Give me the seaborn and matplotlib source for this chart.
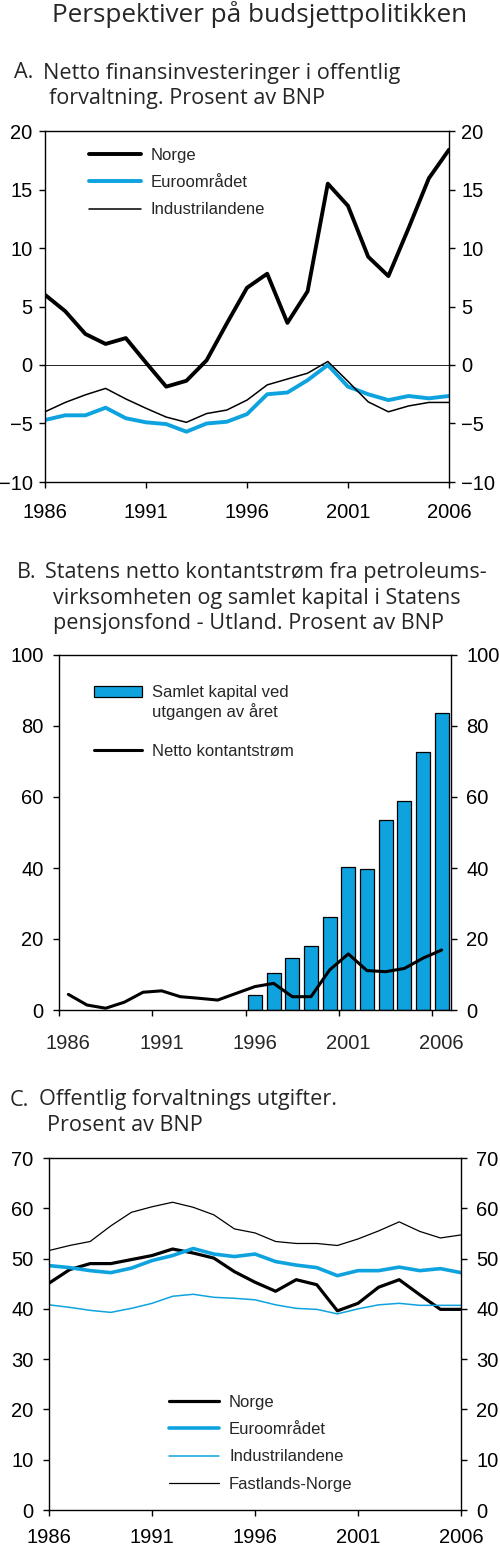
import numpy as np
import pandas as pd
import matplotlib
matplotlib.use('Agg')
import matplotlib.pyplot as plt
from matplotlib.lines import Line2D
from matplotlib.patches import Patch
import seaborn as sns

years = list(range(1986, 2007))

# A. Netto finansinvesteringer i offentlig forvaltning
a_norge = [6.0, 4.6, 2.65, 1.8, 2.3, 0.2, -1.85, -1.35, 0.4, 3.55, 6.6,
           7.8, 3.6, 6.3, 15.5, 13.6, 9.25, 7.6, 11.7, 15.95, 18.4]
a_euro = [-4.7, -4.3, -4.3, -3.65, -4.55, -4.9, -5.05, -5.7, -5.0, -4.85, -4.2,
          -2.5, -2.35, -1.3, 0.0, -1.85, -2.5, -3.0, -2.65, -2.85, -2.65]
a_industri = [-4.0, -3.2, -2.55, -2.0, -2.9, -3.7, -4.45, -4.9, -4.15, -3.85, -3.0,
              -1.7, -1.2, -0.7, 0.3, -1.4, -3.15, -4.0, -3.5, -3.2, -3.2]

# B. Netto kontantstrøm og kapital i fondet
b_kontant = [4.4, 1.4, 0.5, 2.2, 5.0, 5.4, 3.75, 3.3, 2.8, 4.7, 6.6,
             7.5, 3.75, 3.75, 11.3, 15.8, 11.1, 10.8, 11.7, 14.6, 16.9]
b_fond_years = list(range(1996, 2007))
b_fond = [4.2, 10.3, 14.6, 18.0, 26.3, 40.4, 39.8, 53.5, 59.0, 72.6, 83.6]

# C. Offentlig forvaltnings utgifter
c_norge = [45.1, 47.8, 49.0, 49.0, 49.8, 50.6, 51.9, 51.1, 50.1, 47.4, 45.3,
           43.5, 45.8, 44.8, 39.6, 41.1, 44.3, 45.8, 42.8, 39.9, 39.9]
c_euro = [48.6, 48.2, 47.6, 47.2, 48.1, 49.6, 50.6, 52.0, 50.9, 50.4, 50.9,
          49.4, 48.7, 48.2, 46.6, 47.6, 47.6, 48.3, 47.6, 48.0, 47.2]
c_industri = [40.8, 40.3, 39.7, 39.3, 40.1, 41.1, 42.5, 42.9, 42.3, 42.1, 41.8,
              40.8, 40.1, 39.9, 39.0, 40.0, 40.8, 41.1, 40.7, 40.7, 40.7]
c_fastland = [51.6, 52.6, 53.4, 56.5, 59.2, 60.3, 61.2, 60.2, 58.7, 55.9, 55.1,
              53.4, 53.0, 53.0, 52.6, 53.9, 55.5, 57.3, 55.4, 54.1, 54.7]

year_ticks = [1986, 1991, 1996, 2001, 2006]

BLUE = '#0ea3df'
TICK_FONT = 'Liberation Sans'
TITLE_FONT = 'Open Sans'
TICK_SIZE = 14.5

sns.set_theme(style='ticks')
plt.rcParams['font.family'] = [TICK_FONT, 'DejaVu Sans']
plt.rcParams['axes.linewidth'] = 1.0

fig = plt.figure(figsize=(5.0, 15.45), dpi=100)
W, H = 500, 1545


def add_axes(left, top, right, bottom):
    return fig.add_axes([left / W, 1 - bottom / H, (right - left) / W, (bottom - top) / H])


def style_axes(ax):
    for s in ax.spines.values():
        s.set_visible(True)
        s.set_color('black')
        s.set_linewidth(1.0)
    ax.tick_params(axis='both', which='major', direction='out', length=4, width=1.0,
                   labelsize=TICK_SIZE, colors='black', pad=7)
    ax.tick_params(axis='y', left=True, right=True, labelleft=True, labelright=True)
    ax.grid(False)
    ax.set_xlabel('')
    ax.set_ylabel('')


def title(x_first, y, letter, lines, x_rest):
    fig.text(x_first / W, 1 - y / H, letter, fontsize=15.6, family=TITLE_FONT,
             va='center', ha='left')
    for i, (xl, line) in enumerate(zip(x_rest, lines)):
        fig.text(xl / W, 1 - (y + i * 25.5) / H, line, fontsize=15.6, family=TITLE_FONT,
                 va='center', ha='left')


fig.text(260 / W, 1 - 15 / H, 'Perspektiver på budsjettpolitikken', fontsize=18.8,
         family=TITLE_FONT, ha='center', va='center')

# ---------- Panel A ----------
title(14, 73, 'A.', ['Netto finansinvesteringer i offentlig',
                     'forvaltning. Prosent av BNP'], [43, 49])
axA = add_axes(45, 131, 449, 482)
axA.axhline(0, color='black', lw=0.6)
sns.lineplot(x=years, y=a_norge, ax=axA, color='black', linewidth=2.8)
sns.lineplot(x=years, y=a_euro, ax=axA, color=BLUE, linewidth=2.8)
sns.lineplot(x=years, y=a_industri, ax=axA, color='black', linewidth=1.1)
axA.set_xlim(1986, 2006)
axA.set_ylim(-10, 20)
axA.set_yticks(range(-10, 21, 5))
axA.set_xticks(year_ticks)
style_axes(axA)
axA.tick_params(axis='x', pad=11)
axA.tick_params(axis='y', pad=5)
hA = [Line2D([], [], color='black', lw=2.8), Line2D([], [], color=BLUE, lw=2.8),
      Line2D([], [], color='black', lw=1.1)]
axA.legend(hA, ['Norge', 'Euroområdet', 'Industrilandene'], loc='upper left',
           bbox_to_anchor=(0.072, 0.995), frameon=False, fontsize=12,
           handlelength=3.1, labelspacing=0.74, handletextpad=0.6)

# ---------- Panel B ----------
title(17, 573, 'B.', ['Statens netto kontantstrøm fra petroleums-',
                      'virksomheten og samlet kapital i Statens',
                      'pensjonsfond - Utland. Prosent av BNP'], [45, 53, 53])
axB = add_axes(59, 655, 451, 1010)
dfB = pd.DataFrame({'pos': [y + 0.5 for y in b_fond_years], 'kapital': b_fond})
sns.barplot(data=dfB, x='pos', y='kapital', ax=axB, native_scale=True, width=0.74,
            color=BLUE, edgecolor='black', linewidth=0.9, saturation=1)
sns.lineplot(x=[y + 0.5 for y in years], y=b_kontant, ax=axB, color='black',
             linewidth=2.2)
axB.set_xlim(1986, 2007)
axB.set_ylim(0, 100)
axB.set_yticks(range(0, 101, 20))
axB.set_xticks(year_ticks)
axB.set_xticklabels([])
axB.set_xticks([y + 0.5 for y in year_ticks], minor=True)
axB.set_xticklabels([str(y) for y in year_ticks], minor=True)
style_axes(axB)
axB.tick_params(axis='x', which='minor', length=0, labelsize=TICK_SIZE, pad=17)
blank = Line2D([], [], color='none')
hB = [Patch(facecolor=BLUE, edgecolor='black', linewidth=0.9), blank, blank,
      Line2D([], [], color='black', lw=2.2)]
legB = axB.legend(hB, ['Samlet kapital ved', 'utgangen av året', 'Åg', 'Netto kontantstrøm'],
                  loc='upper left', bbox_to_anchor=(0.05, 0.957), frameon=False,
                  fontsize=12, handlelength=2.9, handleheight=0.6, labelspacing=0.17,
                  handletextpad=0.6)
legB.get_texts()[2].set_alpha(0)

# ---------- Panel C ----------
title(10, 1100, 'C.', ['Offentlig forvaltnings utgifter.', 'Prosent av BNP'], [39, 47])
axC = add_axes(49, 1158, 461, 1510)
sns.lineplot(x=years, y=c_norge, ax=axC, color='black', linewidth=2.3)
sns.lineplot(x=years, y=c_euro, ax=axC, color=BLUE, linewidth=2.6)
sns.lineplot(x=years, y=c_industri, ax=axC, color=BLUE, linewidth=1.1)
sns.lineplot(x=years, y=c_fastland, ax=axC, color='black', linewidth=0.9)
axC.set_xlim(1986, 2006)
axC.set_ylim(0, 70)
axC.set_yticks(range(0, 71, 10))
axC.set_xticks(year_ticks)
style_axes(axC)
axC.tick_params(axis='x', pad=9)
hC = [Line2D([], [], color='black', lw=2.3), Line2D([], [], color=BLUE, lw=2.6),
      Line2D([], [], color=BLUE, lw=1.1), Line2D([], [], color='black', lw=0.9)]
axC.legend(hC, ['Norge', 'Euroområdet', 'Industrilandene', 'Fastlands-Norge'],
           loc='upper left', bbox_to_anchor=(0.255, 0.37), frameon=False, fontsize=12,
           handlelength=3.0, labelspacing=0.74, handletextpad=0.6)

fig.savefig('out.png', dpi=100)
